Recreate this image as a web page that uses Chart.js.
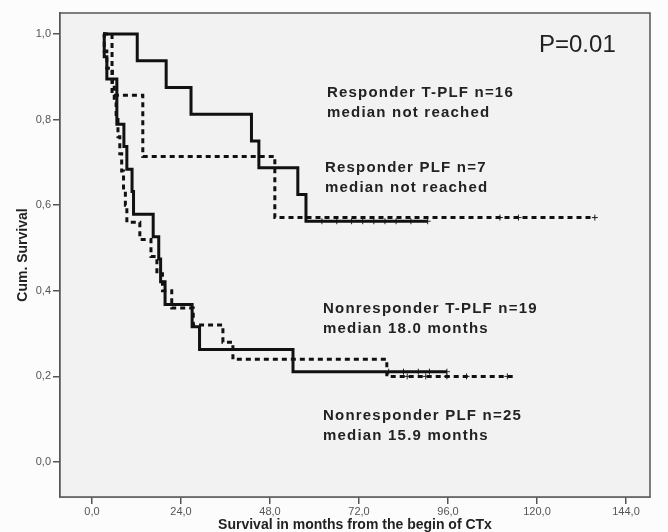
<!DOCTYPE html>
<html>
<head>
<meta charset="utf-8">
<script src="https://cdn.jsdelivr.net/npm/chart.js@4/dist/chart.umd.min.js"></script>
<style>
  body { margin: 0; background: #fcfcfc; }
  canvas { display: block; }
</style>
</head>
<body>
<canvas id="km" width="668" height="532"></canvas>
<script>
// survival curves: month of each step and survival after that step
const respTplfMonths = [3, 12.2, 20, 26.7, 43, 45, 55.5, 57.7, 90.5];
const respTplfSurv   = [1, 0.9375, 0.875, 0.8125, 0.75, 0.6875, 0.625, 0.5625, 0.5625];
const respTplfCens   = [62, 66, 70, 73, 76, 79, 82, 86, 90.5];

const respPlfMonths = [3, 5.4, 13.7, 49.3, 135.6];
const respPlfSurv   = [1, 0.857, 0.714, 0.571, 0.571];
const respPlfCens   = [110, 115, 135.6];

const nonTplfMonths = [3, 3.3, 4, 6.7, 8.6, 9.4, 10.8, 11.2, 16.5, 18, 18.5, 19.7, 27, 29, 54.2, 95.7];
const nonTplfSurv   = [1, 0.947, 0.895, 0.789, 0.737, 0.684, 0.632, 0.579, 0.526, 0.474, 0.421, 0.368, 0.316, 0.263, 0.211, 0.211];
const nonTplfCens   = [80, 84, 88, 91, 95.7];

const nonPlfMonths = [3, 3.3, 4, 5.5, 6, 6.5, 7, 7.5, 8, 8.5, 9, 9.4, 12.9, 15.9, 17.5, 19, 21.5, 27.3, 35.3, 38, 79.5, 114];
const nonPlfSurv   = [1, 0.96, 0.92, 0.88, 0.84, 0.80, 0.76, 0.72, 0.68, 0.64, 0.60, 0.56, 0.52, 0.48, 0.44, 0.40, 0.36, 0.32, 0.28, 0.24, 0.20, 0.20];
const nonPlfCens    = [85, 90, 95.7, 101, 112];

const xTicks = [0, 24, 48, 72, 96, 120, 144];
const yTicks = [0, 0.2, 0.4, 0.6, 0.8, 1.0];

function pts(months, surv) {
  return months.map((m, i) => ({ x: m, y: surv[i] }));
}
function survAt(months, surv, t) {
  let s = surv[0];
  for (let i = 0; i < months.length; i++) {
    if (months[i] <= t) s = surv[i];
  }
  return s;
}
function cens(months, surv, times) {
  return times.map(t => ({ x: t, y: survAt(months, surv, t) }));
}

function curve(data, dashed) {
  return {
    data: data,
    showLine: true,
    stepped: true,
    borderColor: '#111',
    borderWidth: 3,
    borderDash: dashed ? [5, 4] : [],
    pointRadius: 0,
    fill: false
  };
}
function marks(data) {
  return {
    data: data,
    showLine: false,
    pointStyle: 'cross',
    pointRadius: 3,
    borderColor: '#222',
    borderWidth: 1
  };
}

const frame = {
  id: 'frame',
  beforeDatasetsDraw(chart) {
    const a = chart.chartArea, c = chart.ctx;
    c.save();
    c.fillStyle = '#f2f2f2';
    c.fillRect(a.left, a.top, a.width, a.height);
    c.restore();
  },
  afterDraw(chart) {
    const a = chart.chartArea, c = chart.ctx;
    c.save();
    c.strokeStyle = '#555';
    c.lineWidth = 1.5;
    c.strokeRect(a.left, a.top, a.width, a.height);

    c.fillStyle = '#222';
    c.font = '24px "Liberation Sans", Arial, sans-serif';
    c.fillText('P=0.01', 539, 52);

    c.font = 'bold 15px "Liberation Sans", Arial, sans-serif';
    c.letterSpacing = '1.2px';
    const notes = [
      ['Responder T-PLF n=16', 327, 97],
      ['median not reached', 327, 117],
      ['Responder PLF n=7', 325, 172],
      ['median not reached', 325, 192],
      ['Nonresponder T-PLF n=19', 323, 313],
      ['median 18.0 months', 323, 333],
      ['Nonresponder PLF n=25', 323, 420],
      ['median 15.9 months', 323, 440]
    ];
    notes.forEach(n => c.fillText(n[0], n[1], n[2]));
    c.restore();
  }
};

new Chart(document.getElementById('km'), {
  type: 'scatter',
  data: {
    datasets: [
      curve(pts(respTplfMonths, respTplfSurv), false),
      curve(pts(respPlfMonths, respPlfSurv), true),
      curve(pts(nonTplfMonths, nonTplfSurv), false),
      curve(pts(nonPlfMonths, nonPlfSurv), true),
      marks(cens(respTplfMonths, respTplfSurv, respTplfCens)),
      marks(cens(respPlfMonths, respPlfSurv, respPlfCens)),
      marks(cens(nonTplfMonths, nonTplfSurv, nonTplfCens)),
      marks(cens(nonPlfMonths, nonPlfSurv, nonPlfCens))
    ]
  },
  options: {
    responsive: false,
    animation: false,
    layout: { padding: { top: 13, right: 18, left: 0, bottom: 0 } },
    plugins: {
      legend: { display: false },
      tooltip: { enabled: false }
    },
    scales: {
      x: {
        type: 'linear',
        min: -8.63,
        max: 150.47,
        afterBuildTicks: s => { s.ticks = xTicks.map(v => ({ value: v })); },
        afterFit: s => { s.height = 35; },
        grid: { drawOnChartArea: false, drawTicks: true, tickLength: 7, color: '#555', lineWidth: 1.5 },
        border: { display: true, color: '#555', width: 1.5 },
        ticks: {
          color: '#555',
          padding: 1,
          maxRotation: 0,
          font: { family: '"Liberation Sans", Arial, sans-serif', size: 11 },
          callback: v => v.toFixed(1).replace('.', ',')
        },
        title: {
          display: true,
          text: 'Survival in months from the begin of CTx',
          color: '#222',
          padding: { top: 0, bottom: 0 },
          font: { family: '"Liberation Sans", Arial, sans-serif', size: 14, weight: 'bold', lineHeight: 1.0 }
        }
      },
      y: {
        type: 'linear',
        min: -0.0818,
        max: 1.049,
        afterBuildTicks: s => { s.ticks = yTicks.map(v => ({ value: v })); },
        afterFit: s => { s.width = 60; },
        grid: { drawOnChartArea: false, drawTicks: true, tickLength: 7, color: '#555', lineWidth: 1.5 },
        border: { display: true, color: '#555', width: 1.5 },
        ticks: {
          color: '#555',
          padding: 2,
          font: { family: '"Liberation Sans", Arial, sans-serif', size: 11 },
          callback: v => v.toFixed(1).replace('.', ',')
        },
        title: {
          display: true,
          text: 'Cum. Survival',
          color: '#222',
          padding: { top: 15, bottom: 0 },
          font: { family: '"Liberation Sans", Arial, sans-serif', size: 14, weight: 'bold' }
        }
      }
    }
  },
  plugins: [frame]
});
</script>
</body>
</html>
